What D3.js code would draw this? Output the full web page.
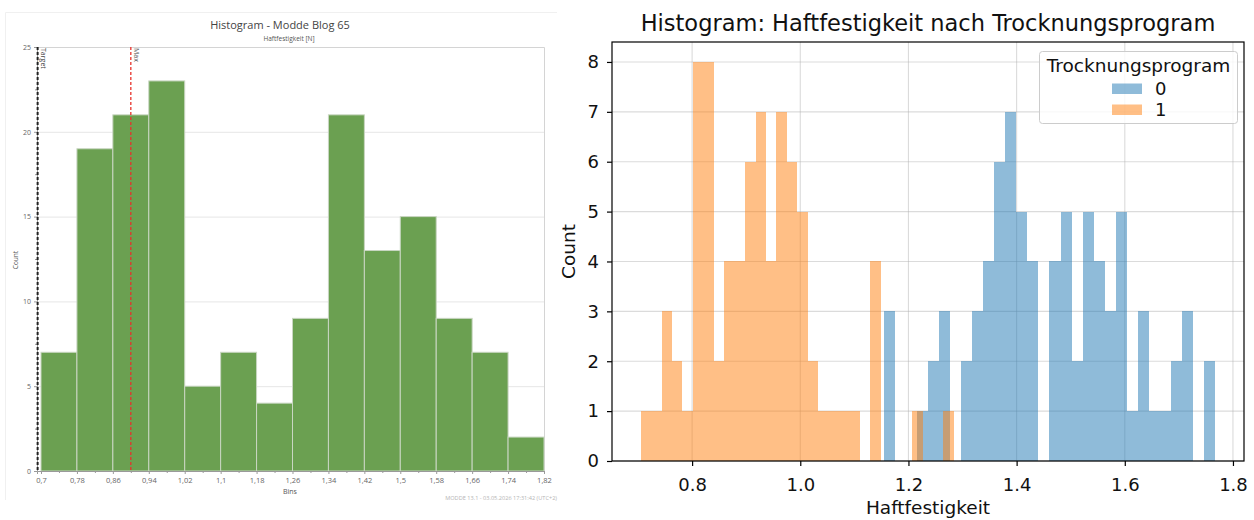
<!DOCTYPE html>
<html>
<head>
<meta charset="utf-8">
<script src="https://cdn.jsdelivr.net/npm/d3@7"></script>
<style>
  body { margin: 0; background: #fff; }
  svg { display: block; }
</style>
</head>
<body>
<div id="chart"></div>
<script>
// ---- left panel data (MODDE histogram) ----
const moddeEdges = [0.70, 0.78, 0.86, 0.94, 1.02, 1.10, 1.18, 1.26, 1.34, 1.42, 1.50, 1.58, 1.66, 1.74, 1.82];
const moddeTickLabels = ["0,7", "0,78", "0,86", "0,94", "1,02", "1,1", "1,18", "1,26", "1,34", "1,42", "1,5", "1,58", "1,66", "1,74", "1,82"];
const moddeCounts = [7, 19, 21, 23, 5, 7, 4, 9, 21, 13, 15, 9, 7, 2];
const moddeYTicks = [0, 5, 10, 15, 20, 25];
const targetValue = 0.6925;
const maxValue = 0.90;

// ---- right panel data (pandas / matplotlib histogram, 30 bins per group) ----
const programs = ["0", "1"];
const rangeProg0 = [1.1542, 1.7673];
const countsProg0 = [3, 0, 0, 1, 2, 3, 0, 2, 3, 4, 6, 7, 5, 4, 0, 4, 5, 2, 5, 4, 3, 5, 1, 3, 1, 1, 2, 3, 0, 2];
const rangeProg1 = [0.705, 1.284];
const countsProg1 = [1, 1, 3, 2, 1, 8, 8, 2, 4, 4, 6, 7, 4, 7, 6, 5, 2, 1, 1, 1, 1, 0, 4, 0, 0, 0, 1, 0, 0, 1];
const xTicksR = [0.8, 1.0, 1.2, 1.4, 1.6, 1.8];
const yTicksR = [0, 1, 2, 3, 4, 5, 6, 7, 8];

const svg = d3.select("#chart").append("svg")
  .attr("width", 1254)
  .attr("height", 520);

svg.append("rect").attr("width", 1254).attr("height", 520).attr("fill", "#fff");

// ================= LEFT PANEL =================
const leftFont = "'Open Sans', 'Noto Sans', sans-serif";
const L = { left: 37, right: 544, top: 47, bottom: 471 };

// faint panel frame (top + left edge only)
svg.append("path")
  .attr("d", "M5.5,500V12.5H557")
  .attr("fill", "none")
  .attr("stroke", "#f0f0f0");

const xL = d3.scaleLinear().domain([0.6911, 1.82]).range([L.left, L.right]);
const yL = d3.scaleLinear().domain([0, 25]).range([L.bottom, L.top]);

// gridlines
svg.append("g")
  .selectAll("line")
  .data(moddeYTicks.filter(d => d > 0 && d < 25))
  .join("line")
  .attr("x1", L.left).attr("x2", L.right)
  .attr("y1", d => yL(d) + 0.5).attr("y2", d => yL(d) + 0.5)
  .attr("stroke", "#e6e6e6");

// plot frame (top + right)
svg.append("path")
  .attr("d", `M${L.left},${L.top + 0.5}H${L.right + 0.5}V${L.bottom}`)
  .attr("fill", "none")
  .attr("stroke", "#d4d4d4");

// bars
const moddeBins = moddeCounts.map((c, i) => ({ x0: moddeEdges[i], x1: moddeEdges[i + 1], count: c }));
svg.append("g")
  .selectAll("rect")
  .data(moddeBins)
  .join("rect")
  .attr("x", d => xL(d.x0))
  .attr("y", d => yL(d.count))
  .attr("width", d => xL(d.x1) - xL(d.x0))
  .attr("height", d => yL(0) - yL(d.count))
  .attr("fill", "#6ba051")
  .attr("stroke", "#c9d6c2")
  .attr("stroke-width", 1);

// x axis
const xAxisL = svg.append("g")
  .attr("transform", `translate(0,${L.bottom})`)
  .call(d3.axisBottom(xL)
    .tickValues(moddeEdges)
    .tickFormat((d, i) => moddeTickLabels[i])
    .tickSize(3)
    .tickPadding(4));
xAxisL.select(".domain").attr("stroke", "#9a9a9a");
xAxisL.selectAll(".tick line").attr("stroke", "#9a9a9a");
xAxisL.selectAll("text").attr("fill", "#666").style("font-family", leftFont).style("font-size", "7.5px");

// x minor ticks
svg.append("g")
  .attr("transform", `translate(0,${L.bottom})`)
  .call(d3.axisBottom(xL)
    .tickValues(d3.pairs(moddeEdges, (a, b) => (a + b) / 2))
    .tickFormat("")
    .tickSize(2))
  .call(g => g.select(".domain").remove())
  .selectAll(".tick line").attr("stroke", "#9a9a9a");

// y axis
const yAxisL = svg.append("g")
  .attr("transform", `translate(${L.left},0)`)
  .call(d3.axisLeft(yL)
    .tickValues(moddeYTicks)
    .tickSize(3)
    .tickPadding(3));
yAxisL.select(".domain").attr("stroke", "#9a9a9a");
yAxisL.selectAll(".tick line").attr("stroke", "#9a9a9a");
yAxisL.selectAll("text").attr("fill", "#666").style("font-family", leftFont).style("font-size", "7px");

svg.append("g")
  .attr("transform", `translate(${L.left},0)`)
  .call(d3.axisLeft(yL)
    .tickValues(d3.pairs(moddeYTicks, (a, b) => (a + b) / 2))
    .tickFormat("")
    .tickSize(2))
  .call(g => g.select(".domain").remove())
  .selectAll(".tick line").attr("stroke", "#9a9a9a");

// target + max lines
svg.append("line")
  .attr("x1", xL(targetValue)).attr("x2", xL(targetValue))
  .attr("y1", L.top).attr("y2", L.bottom)
  .attr("stroke", "#222")
  .attr("stroke-width", 2)
  .attr("stroke-dasharray", "3,2");
svg.append("text")
  .attr("transform", `translate(${xL(targetValue) + 3},${L.top + 1}) rotate(90)`)
  .style("font-family", leftFont).style("font-size", "7px")
  .attr("fill", "#444")
  .text("Target");

svg.append("line")
  .attr("x1", xL(maxValue)).attr("x2", xL(maxValue))
  .attr("y1", L.top).attr("y2", L.bottom)
  .attr("stroke", "#e8322c")
  .attr("stroke-width", 1.3)
  .attr("stroke-dasharray", "3,2");
svg.append("text")
  .attr("transform", `translate(${xL(maxValue) + 3},${L.top + 1}) rotate(90)`)
  .style("font-family", leftFont).style("font-size", "7px")
  .attr("fill", "#444")
  .text("Max");

// titles + labels
svg.append("text")
  .attr("x", 280).attr("y", 29)
  .attr("text-anchor", "middle")
  .style("font-family", leftFont).style("font-size", "11px")
  .attr("fill", "#444")
  .text("Histogram - Modde Blog 65");

svg.append("text")
  .attr("x", 289).attr("y", 41)
  .attr("text-anchor", "middle")
  .style("font-family", leftFont).style("font-size", "6.5px")
  .attr("fill", "#555")
  .text("Haftfestigkeit [N]");

svg.append("text")
  .attr("transform", "translate(18,260) rotate(-90)")
  .attr("text-anchor", "middle")
  .style("font-family", leftFont).style("font-size", "6.5px")
  .attr("fill", "#555")
  .text("Count");

svg.append("text")
  .attr("x", 290).attr("y", 494)
  .attr("text-anchor", "middle")
  .style("font-family", leftFont).style("font-size", "7px")
  .attr("fill", "#555")
  .text("Bins");

svg.append("text")
  .attr("x", 557).attr("y", 500)
  .attr("text-anchor", "end")
  .style("font-family", leftFont).style("font-size", "5.6px")
  .attr("fill", "#b5b5b5")
  .text("MODDE 13.1 - 03.05.2026 17:31:42 (UTC+2)");

// ================= RIGHT PANEL =================
const rightFont = "'DejaVu Sans', sans-serif";
const R = { left: 612, right: 1244, top: 42, bottom: 461 };
const colors = { "0": "#1f77b4", "1": "#ff7f0e" };

// matplotlib style: 5% margin around the data range
const dataMin = Math.min(rangeProg0[0], rangeProg1[0]);
const dataMax = Math.max(rangeProg0[1], rangeProg1[1]);
const pad = (dataMax - dataMin) * 0.05;
const xR = d3.scaleLinear().domain([dataMin - pad, dataMax + pad]).range([R.left, R.right]);
const yR = d3.scaleLinear().domain([0, 8.4]).range([R.bottom, R.top]);

function makeBins(range, counts) {
  const w = (range[1] - range[0]) / counts.length;
  return counts.map((c, i) => ({ x0: range[0] + i * w, x1: range[0] + (i + 1) * w, count: c }));
}

// grid
const gridR = svg.append("g").attr("stroke", "#b0b0b0").attr("stroke-opacity", 0.45).attr("stroke-width", 1.1);
gridR.selectAll(".gx").data(xTicksR).join("line")
  .attr("x1", d => xR(d)).attr("x2", d => xR(d))
  .attr("y1", R.top).attr("y2", R.bottom);
gridR.selectAll(".gy").data(yTicksR).join("line")
  .attr("x1", R.left).attr("x2", R.right)
  .attr("y1", d => yR(d)).attr("y2", d => yR(d));

// bars: group 0 first, then group 1 on top, both half transparent
[[programs[0], rangeProg0, countsProg0], [programs[1], rangeProg1, countsProg1]].forEach(([key, range, counts]) => {
  svg.append("g")
    .selectAll("rect")
    .data(makeBins(range, counts).filter(d => d.count > 0))
    .join("rect")
    .attr("x", d => xR(d.x0))
    .attr("y", d => yR(d.count))
    .attr("width", d => xR(d.x1) - xR(d.x0))
    .attr("height", d => yR(0) - yR(d.count))
    .attr("fill", colors[key])
    .attr("fill-opacity", 0.5)
    .attr("shape-rendering", "crispEdges");
});

// axes
const xAxisR = svg.append("g")
  .attr("transform", `translate(0,${R.bottom})`)
  .call(d3.axisBottom(xR).tickValues(xTicksR).tickFormat(d3.format(".1f")).tickSize(5).tickPadding(12));
const yAxisR = svg.append("g")
  .attr("transform", `translate(${R.left},0)`)
  .call(d3.axisLeft(yR).tickValues(yTicksR).tickFormat(d3.format("d")).tickSize(5).tickPadding(8));
[xAxisR, yAxisR].forEach(g => {
  g.select(".domain").remove();
  g.selectAll(".tick line").attr("stroke", "#000").attr("stroke-width", 1.2);
  g.selectAll("text").attr("fill", "#111").style("font-family", rightFont).style("font-size", "18px");
});

// spines
svg.append("rect")
  .attr("x", R.left).attr("y", R.top)
  .attr("width", R.right - R.left).attr("height", R.bottom - R.top)
  .attr("fill", "none")
  .attr("stroke", "#000")
  .attr("stroke-width", 1.2);

// title + labels
svg.append("text")
  .attr("x", (R.left + R.right) / 2).attr("y", 31)
  .attr("text-anchor", "middle")
  .style("font-family", rightFont).style("font-size", "22.5px")
  .attr("fill", "#111")
  .text("Histogram: Haftfestigkeit nach Trocknungsprogram");

svg.append("text")
  .attr("x", (R.left + R.right) / 2).attr("y", 514)
  .attr("text-anchor", "middle")
  .style("font-family", rightFont).style("font-size", "18.5px")
  .attr("fill", "#111")
  .text("Haftfestigkeit");

svg.append("text")
  .attr("transform", `translate(575,${(R.top + R.bottom) / 2}) rotate(-90)`)
  .attr("text-anchor", "middle")
  .style("font-family", rightFont).style("font-size", "18.5px")
  .attr("fill", "#111")
  .text("Count");

// legend
const leg = svg.append("g");
leg.append("rect")
  .attr("x", 1039.5).attr("y", 51.5)
  .attr("width", 198).attr("height", 72)
  .attr("rx", 3)
  .attr("fill", "#fff").attr("fill-opacity", 0.8)
  .attr("stroke", "#cccccc");
leg.append("text")
  .attr("x", 1138.5).attr("y", 72)
  .attr("text-anchor", "middle")
  .style("font-family", rightFont).style("font-size", "18.5px")
  .attr("fill", "#111")
  .text("Trocknungsprogram");
programs.forEach((p, i) => {
  const yy = 83.5 + i * 21;
  leg.append("rect")
    .attr("x", 1112).attr("y", yy)
    .attr("width", 30).attr("height", 10.5)
    .attr("fill", colors[p]).attr("fill-opacity", 0.5);
  leg.append("text")
    .attr("x", 1155).attr("y", yy + 11)
    .style("font-family", rightFont).style("font-size", "18px")
    .attr("fill", "#111")
    .text(p);
});
</script>
</body>
</html>
